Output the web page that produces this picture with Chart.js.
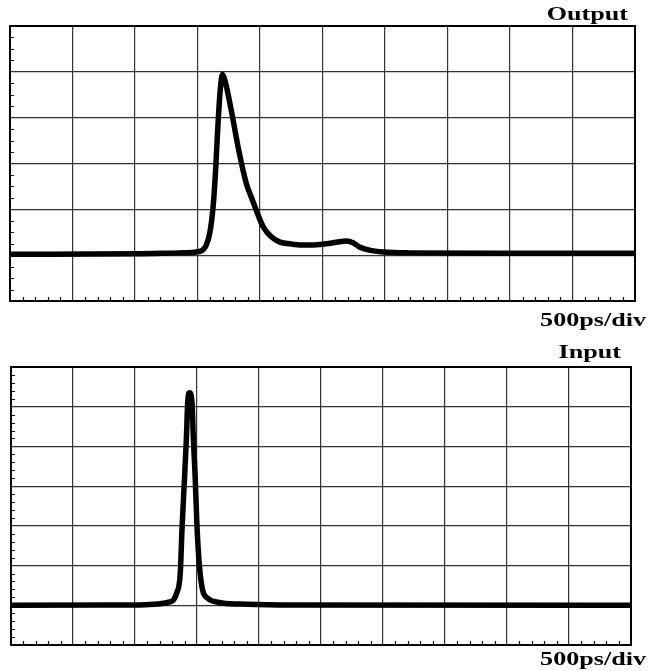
<!DOCTYPE html>
<html>
<head>
<meta charset="utf-8">
<title>Pulse response</title>
<script src="https://cdn.jsdelivr.net/npm/chart.js@4.4.1/dist/chart.umd.min.js"></script>
<style>
  html, body { margin: 0; padding: 0; background: #fff; }
  #wrap { position: relative; width: 648px; height: 671px; overflow: hidden; }
  canvas { position: absolute; left: 0; }
  #cvOut { top: 0; }
  #cvIn { top: 335px; }
</style>
</head>
<body>
<div id="wrap">
  <canvas id="cvOut" width="648" height="335"></canvas>
  <canvas id="cvIn" width="648" height="336"></canvas>
</div>
<script>
(function () {
  'use strict';

  // time base: 500 ps per division, 10 divisions
  const TIME_PER_DIV = 500;
  const TIME_SPAN = 5000;

  // output trace (time in ps, level in vertical divisions)
  const outputTimePs = [0, 1000, 1355, 1515, 1570, 1600, 1625, 1645, 1660, 1680, 1700, 1712, 1730,
    1780, 1830, 1890, 1940, 1990, 2025, 2090, 2155, 2260, 2370, 2500, 2610, 2690, 2745,
    2795, 2875, 2985, 3200, 4000, 5000];
  const outputLevel = [1.02, 1.03, 1.05, 1.08, 1.22, 1.51, 2.06, 2.86, 3.66, 4.54, 4.94, 4.88, 4.70,
    4.02, 3.29, 2.57, 2.20, 1.84, 1.62, 1.40, 1.29, 1.24, 1.22, 1.24, 1.28, 1.31, 1.27,
    1.18, 1.11, 1.07, 1.05, 1.04, 1.04];

  // input trace
  const inputTimePs = [0, 1035, 1290, 1335, 1365, 1380, 1400, 1415, 1425, 1440, 1460, 1470, 1485,
    1500, 1520, 1545, 1585, 1680, 1845, 2165, 5000];
  const inputLevel = [1.0, 1.01, 1.09, 1.30, 1.81, 2.98, 4.24, 5.25, 6.10, 6.35, 6.10, 5.25, 4.24,
    2.98, 1.97, 1.39, 1.18, 1.07, 1.03, 1.01, 1.0];

  const CAPTION_FONT = 'bold 18px "Liberation Serif", "DejaVu Serif", serif';
  const CAPTION_STRETCH = 1.45;

  function toPoints(xs, ys) {
    return xs.map((t, i) => ({ x: t, y: ys[i] }));
  }

  // frame, inner minor ticks and captions
  const scopeDecor = {
    id: 'scopeDecor',
    afterDatasetsDraw(chart, args, opts) {
      const { ctx, chartArea: a, scales: { x, y } } = chart;
      ctx.save();

      ctx.strokeStyle = '#111';
      ctx.lineWidth = 1.2;
      ctx.beginPath();
      const xMinor = TIME_PER_DIV / 5;
      for (let t = xMinor; t < TIME_SPAN; t += xMinor) {
        if (t % TIME_PER_DIV === 0) continue;
        const px = Math.round(x.getPixelForValue(t)) + 0.5;
        ctx.moveTo(px, a.bottom);
        ctx.lineTo(px, a.bottom - 4);
      }
      const ySub = opts.ySub || 5;
      for (let d = 0; d < opts.yDivs; d++) {
        for (let j = 1; j < ySub; j++) {
          const py = Math.round(y.getPixelForValue(d + j / ySub)) + 0.5;
          ctx.moveTo(a.left, py);
          ctx.lineTo(a.left + 4, py);
        }
      }
      ctx.stroke();

      ctx.strokeStyle = '#000';
      ctx.lineWidth = 2;
      ctx.strokeRect(a.left, a.top, a.right - a.left, a.bottom - a.top);

      ctx.fillStyle = '#000';
      ctx.font = CAPTION_FONT;
      ctx.textAlign = 'right';
      ctx.textBaseline = 'alphabetic';
      for (const c of opts.captions || []) {
        ctx.save();
        ctx.translate(c.right, c.baseline);
        ctx.scale(CAPTION_STRETCH, 1);
        ctx.fillText(c.text, 0, 0);
        ctx.restore();
      }
      ctx.restore();
    }
  };

  function makeScope(canvas, xs, ys, yDivs, ySub, pad, captions) {
    return new Chart(canvas, {
      type: 'line',
      data: {
        datasets: [{
          data: toPoints(xs, ys),
          borderColor: '#000',
          borderWidth: 5.5,
          pointRadius: 0,
          cubicInterpolationMode: 'monotone',
          borderJoinStyle: 'round',
          clip: false
        }]
      },
      options: {
        responsive: false,
        animation: false,
        layout: { padding: pad },
        plugins: {
          legend: { display: false },
          tooltip: { enabled: false },
          scopeDecor: { yDivs, ySub, captions }
        },
        scales: {
          x: {
            type: 'linear',
            min: 0,
            max: TIME_SPAN,
            ticks: { display: false, stepSize: TIME_PER_DIV },
            grid: { color: '#333', lineWidth: 1.2, drawTicks: false },
            border: { display: false }
          },
          y: {
            min: 0,
            max: yDivs,
            ticks: { display: false, stepSize: 1 },
            grid: { color: '#333', lineWidth: 1.2, drawTicks: false },
            border: { display: false }
          }
        }
      },
      plugins: [scopeDecor]
    });
  }

  makeScope(document.getElementById('cvOut'), outputTimePs, outputLevel, 6, 4,
    { left: 10, top: 26, right: 13, bottom: 34 },
    [
      { text: 'Output', right: 628, baseline: 20 },
      { text: '500ps/div', right: 646, baseline: 326 }
    ]);

  makeScope(document.getElementById('cvIn'), inputTimePs, inputLevel, 7, 5,
    { left: 11, top: 32, right: 17, bottom: 26 },
    [
      { text: 'Input', right: 621, baseline: 23 },
      { text: '500ps/div', right: 646, baseline: 330 }
    ]);
})();
</script>
</body>
</html>
